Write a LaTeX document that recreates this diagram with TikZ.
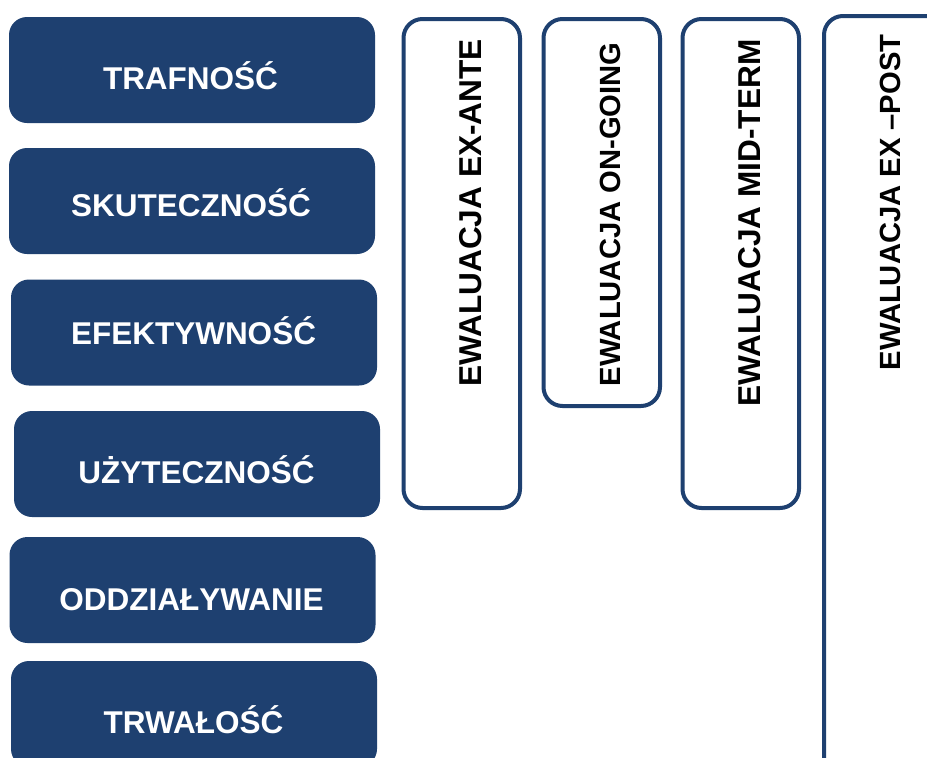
\documentclass[tikz,border=0pt]{standalone}
\usepackage{fontspec}
\setmainfont{Liberation Sans}
\definecolor{navy}{RGB}{30,64,112}
\begin{document}
\begin{tikzpicture}[x=1pt,y=-1pt,
  leftbox/.style={shape=rectangle, rounded corners=18pt, fill=navy, draw=none,
    minimum width=366pt, minimum height=106pt, inner sep=0pt},
  lbl/.style={text=white, font=\fontsize{31.5}{36}\selectfont\bfseries,
    inner sep=0pt, text height=22.5pt, text depth=0pt, anchor=center},
  colbox/.style={shape=rectangle, rounded corners=19pt, draw=navy, line width=4pt,
    fill=white, minimum width=116.5pt, inner sep=0pt},
  collbl/.style={text=black, rotate=90, inner sep=0pt, text depth=0pt, anchor=center},
  bigf/.style={font=\fontsize{31.6}{36}\selectfont\bfseries, text height=22.6pt},
  smallf/.style={font=\fontsize{29.2}{34}\selectfont\bfseries, text height=20.9pt}
]
\clip (0,0) rectangle (927,758);
\fill[white] (0,0) rectangle (927,758);

% left boxes
\node[leftbox] (b1) at (192,70) {};
\node[leftbox] (b2) at (192,201) {};
\node[leftbox] (b3) at (194,332.5) {};
\node[leftbox] (b4) at (197,464) {};
\node[leftbox] (b5) at (192.5,590) {};
\node[leftbox] (b6) at (194,714) {};

\node[lbl] (t1) at (190.5,78.5) {TRAFNOŚĆ};
\node[lbl] (t2) at (191,205) {SKUTECZNOŚĆ};
\node[lbl] (t3) at (193.5,333.5) {EFEKTYWNOŚĆ};
\node[lbl] (t4) at (196.5,472.5) {UŻYTECZNOŚĆ};
\node[lbl] (t5) at (191.5,599) {ODDZIAŁYWANIE};
\node[lbl] (t6) at (193.5,722.5) {TRWAŁOŚĆ};

% evaluation columns
\node[colbox, minimum height=489pt] (c1) at (461.75,263.5) {};
\node[colbox, minimum height=387pt] (c2) at (601.75,212.5) {};
\node[colbox, minimum height=489pt] (c3) at (740.75,263.5) {};
\node[colbox, minimum width=176pt, minimum height=774pt] (c4) at (912,403) {};

\node[collbl, bigf] (e1) at (470,213) {EWALUACJA EX-ANTE};
\node[collbl, smallf] (e2) at (610.5,214.5) {EWALUACJA ON-GOING};
\node[collbl, bigf] (e3) at (749.5,223) {EWALUACJA MID-TERM};
\node[collbl, smallf] (e4) at (890,202.5) {EWALUACJA EX –POST};
\end{tikzpicture}
\end{document}
